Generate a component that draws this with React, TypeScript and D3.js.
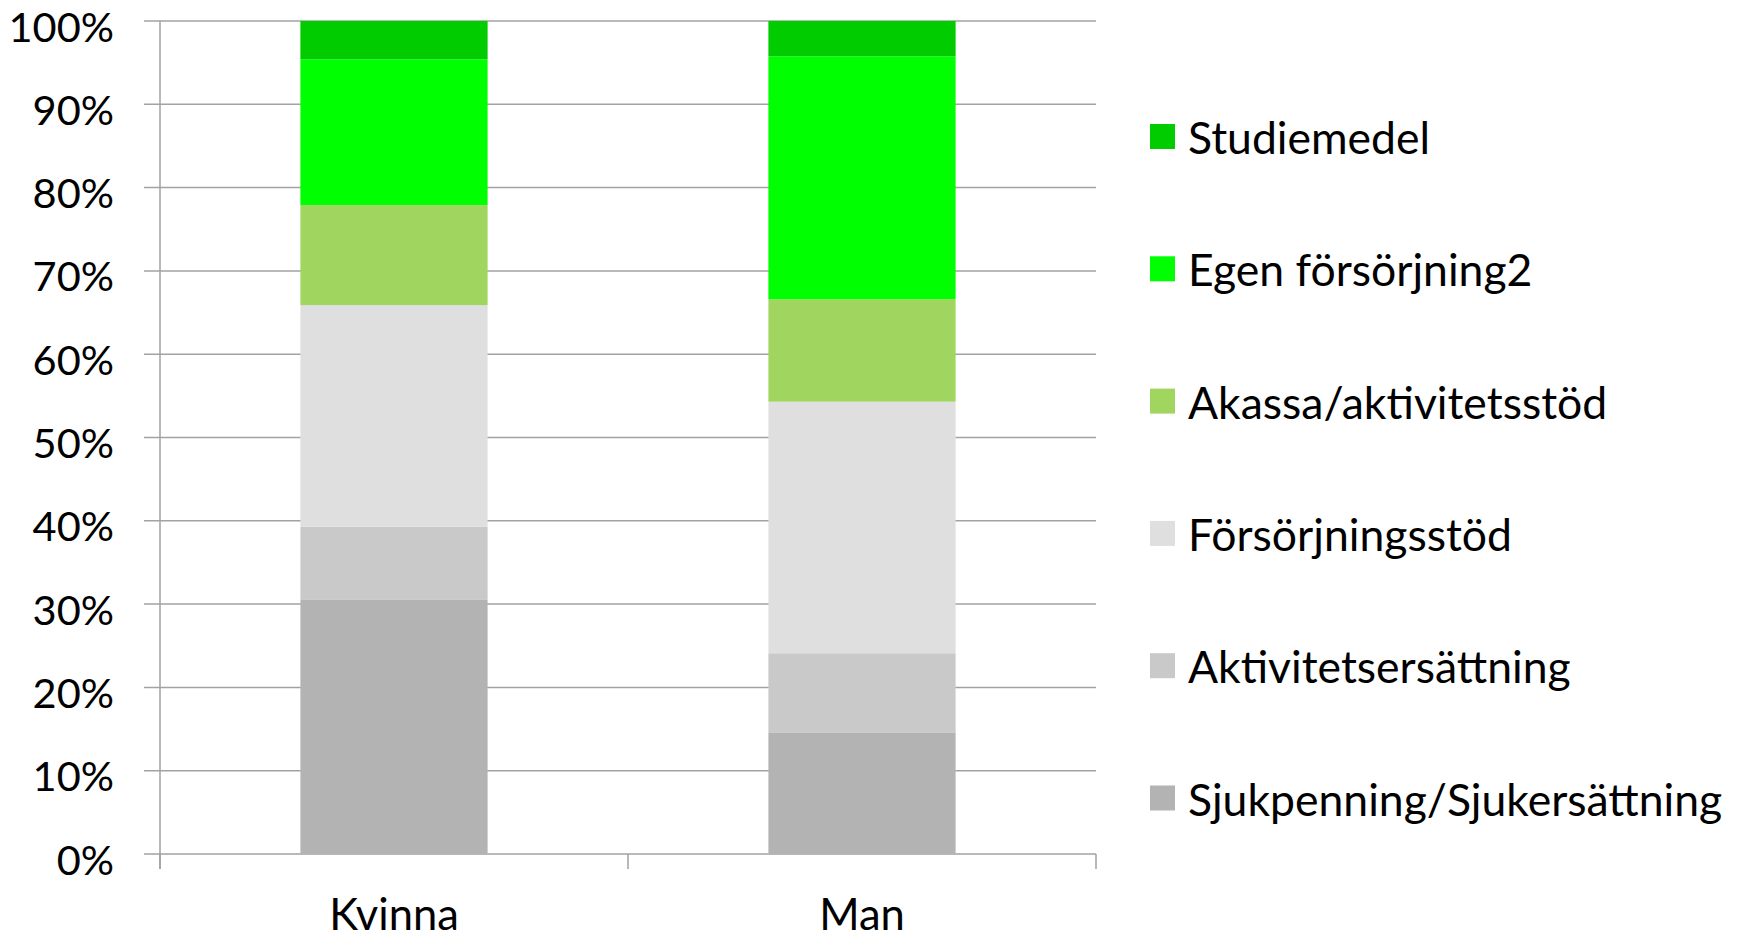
import React from "react";
import * as d3 from "d3";

const categories = ["Kvinna", "Man"];
const seriesNames = [
  "Sjukpenning/Sjukersättning",
  "Aktivitetsersättning",
  "Försörjningsstöd",
  "Akassa/aktivitetsstöd",
  "Egen försörjning2",
  "Studiemedel",
];
const sjukpenning = [30.5, 14.6];
const aktivitetsersattning = [8.8, 9.5];
const forsorjningsstod = [26.6, 30.2];
const akassa = [12.0, 12.3];
const egenForsorjning = [17.5, 29.15];
const studiemedel = [4.6, 4.25];
const seriesColors = ["#B3B3B3", "#C9C9C9", "#DFDFDF", "#A0D660", "#00FF00", "#00CC00"];
const yTicks = [0, 10, 20, 30, 40, 50, 60, 70, 80, 90, 100];

const W = 1740;
const H = 938;
const FONT = "Lato, 'Open Sans', sans-serif";

export default function App() {
  const allValues = [sjukpenning, aktivitetsersattning, forsorjningsstod, akassa, egenForsorjning, studiemedel];
  const rows = categories.map((c, i) => {
    const r: any = { cat: c };
    seriesNames.forEach((s, j) => (r[s] = allValues[j][i]));
    return r;
  });
  const stacked = d3.stack<any>().keys(seriesNames).offset(d3.stackOffsetExpand)(rows);

  const left = 160;
  const right = 1096;
  const top = 21;
  const bottom = 854;
  const x = d3.scaleBand<string>().domain(categories).range([left, right]).paddingInner(0.6).paddingOuter(0.3);
  const y = d3.scaleLinear().domain([0, 100]).range([bottom, top]);
  const yFrac = d3.scaleLinear().domain([0, 1]).range([bottom, top]);
  const step = x.step();
  const catTicks = [left, left + step, left + 2 * step];

  const legendX = 1150;
  const legendY0 = 137;
  const legendStep = 132.3;
  const legendOrder = [...seriesNames].reverse();
  const gridColor = "#A2A2A2";

  return (
    <svg width={W} height={H} style={{ position: "absolute", left: 0, top: 0, background: "#fff" }}>
      {yTicks.map((t) => (
        <line key={"g" + t} x1={144} x2={right} y1={y(t)} y2={y(t)} stroke={gridColor} strokeWidth={1.5} />
      ))}
      <line x1={left} x2={left} y1={top} y2={bottom + 15} stroke={gridColor} strokeWidth={1.5} />
      {catTicks.map((cx, i) => (
        <line key={"ct" + i} x1={cx} x2={cx} y1={bottom} y2={bottom + 15} stroke={gridColor} strokeWidth={1.5} />
      ))}
      {stacked.map((layer, li) =>
        layer.map((d, i) => (
          <rect
            key={li + "-" + i}
            x={x(categories[i])}
            width={x.bandwidth()}
            y={yFrac(d[1])}
            height={yFrac(d[0]) - yFrac(d[1])}
            fill={seriesColors[li]}
          />
        ))
      )}
      {yTicks.map((t) => (
        <text key={"yl" + t} x={114} y={y(t) + 20.5} textAnchor="end" fontFamily={FONT} fontSize={41.5} fill="#000">
          {t + "%"}
        </text>
      ))}
      {categories.map((c) => (
        <text
          key={"xl" + c}
          x={(x(c) as number) + x.bandwidth() / 2}
          y={930}
          textAnchor="middle"
          fontFamily={FONT}
          fontSize={43.5}
          fill="#000"
        >
          {c}
        </text>
      ))}
      {legendOrder.map((s, i) => {
        const cy = legendY0 + i * legendStep;
        const idx = seriesNames.indexOf(s);
        return (
          <g key={"lg" + s}>
            <rect x={legendX} y={cy - 13} width={25} height={25} fill={seriesColors[idx]} />
            <text x={1188} y={cy + 17} fontFamily={FONT} fontSize={44.5} fill="#000">
              {s}
            </text>
          </g>
        );
      })}
    </svg>
  );
}
